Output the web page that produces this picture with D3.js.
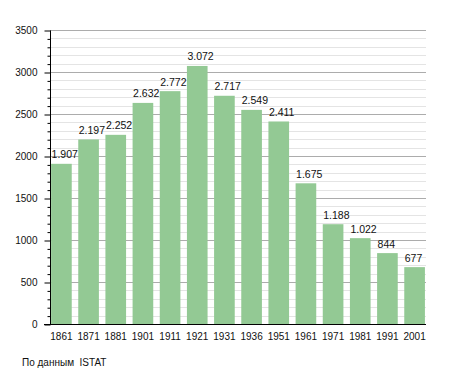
<!DOCTYPE html>
<html><head><meta charset="utf-8">
<script src="https://cdn.jsdelivr.net/npm/d3@7"></script>
<style>body{margin:0;background:#fff}svg{display:block}text{font-family:"Liberation Sans",Arial,sans-serif}</style>
</head><body><svg id="c" width="455" height="373"></svg>
<script>
const years = ["1861","1871","1881","1901","1911","1921","1931","1936","1951","1961","1971","1981","1991","2001"];
const population = [1907,2197,2252,2632,2772,3072,2717,2549,2411,1675,1188,1022,844,677];
const valueLabels = ["1.907","2.197","2.252","2.632","2.772","3.072","2.717","2.549","2.411","1.675","1.188","1.022","844","677"];
const yMajorTicks = [0,500,1000,1500,2000,2500,3000,3500];
const yMinorTicks = d3.range(0,3501,100);
const sourceText = "По данным  ISTAT";

(function(){
const svg = d3.select("#c");
const pL = 50, pR = 426, pT = 30, pB = 324;
const x = d3.scaleBand().domain(years).range([pL, pR]).paddingInner(0.24).paddingOuter(0.04);
const y = d3.scaleLinear().domain([0,3500]).range([pB, pT]);

// minor grid
svg.append("g").selectAll("line").data(yMinorTicks.filter(v => v % 500 !== 0)).join("line")
  .attr("x1", pL).attr("x2", pR).attr("y1", d => Math.round(y(d))+0.5).attr("y2", d => Math.round(y(d))+0.5)
  .attr("stroke", "#e4e4e4").attr("stroke-width", 1);
// major grid
svg.append("g").selectAll("line").data(yMajorTicks.filter(v => v > 0)).join("line")
  .attr("x1", pL).attr("x2", pR).attr("y1", d => Math.round(y(d))+0.5).attr("y2", d => Math.round(y(d))+0.5)
  .attr("stroke", "#acacac").attr("stroke-width", 1);

// bars
svg.append("g").selectAll("rect").data(population).join("rect")
  .attr("x", (d,i) => x(years[i])).attr("width", x.bandwidth())
  .attr("y", d => y(d)).attr("height", d => y(0) - y(d))
  .attr("fill", "#93c994");

// value labels
svg.append("g").selectAll("text").data(population).join("text")
  .attr("x", (d,i) => x(years[i]) + 0.5).attr("y", d => y(d) - 5.5)
  .attr("font-size", "10.5px").attr("fill", "#111")
  .text((d,i) => valueLabels[i]);

// y axis minor ticks
const yAxisMinor = d3.axisLeft(y).tickValues(yMinorTicks.filter(v => v % 500 !== 0)).tickSize(3).tickFormat("");
const gMin = svg.append("g").attr("transform", `translate(${pL + 0.5},0.5)`).call(yAxisMinor);
gMin.select(".domain").remove();
gMin.selectAll("line").attr("stroke", "#000");
// y axis major
const yAxis = d3.axisLeft(y).tickValues(yMajorTicks).tickSize(6).tickPadding(7).tickFormat(d3.format("d"));
const gY = svg.append("g").attr("transform", `translate(${pL + 0.5},0.5)`).call(yAxis);
gY.select(".domain").attr("d", `M0,${y(3500)}V${y(0)}`).attr("stroke", "#000");
gY.selectAll("line").attr("stroke", "#000");
gY.selectAll("text").attr("font-size", "10px").attr("fill", "#111").attr("font-family", null);

// x axis
const xAxis = d3.axisBottom(x).tickSize(0).tickPadding(8);
const gX = svg.append("g").attr("transform", `translate(0,${pB + 0.5})`).call(xAxis);
gX.select(".domain").attr("d", `M${pL-6},0H${pR}`).attr("stroke", "#000");
gX.selectAll("text").attr("font-size", "10px").attr("fill", "#111").attr("font-family", null);

// source
svg.append("text").attr("x", 22).attr("y", 366).attr("font-size", "10px").attr("fill", "#111")
  .style("white-space", "pre").text(sourceText);
})();
</script></body></html>
